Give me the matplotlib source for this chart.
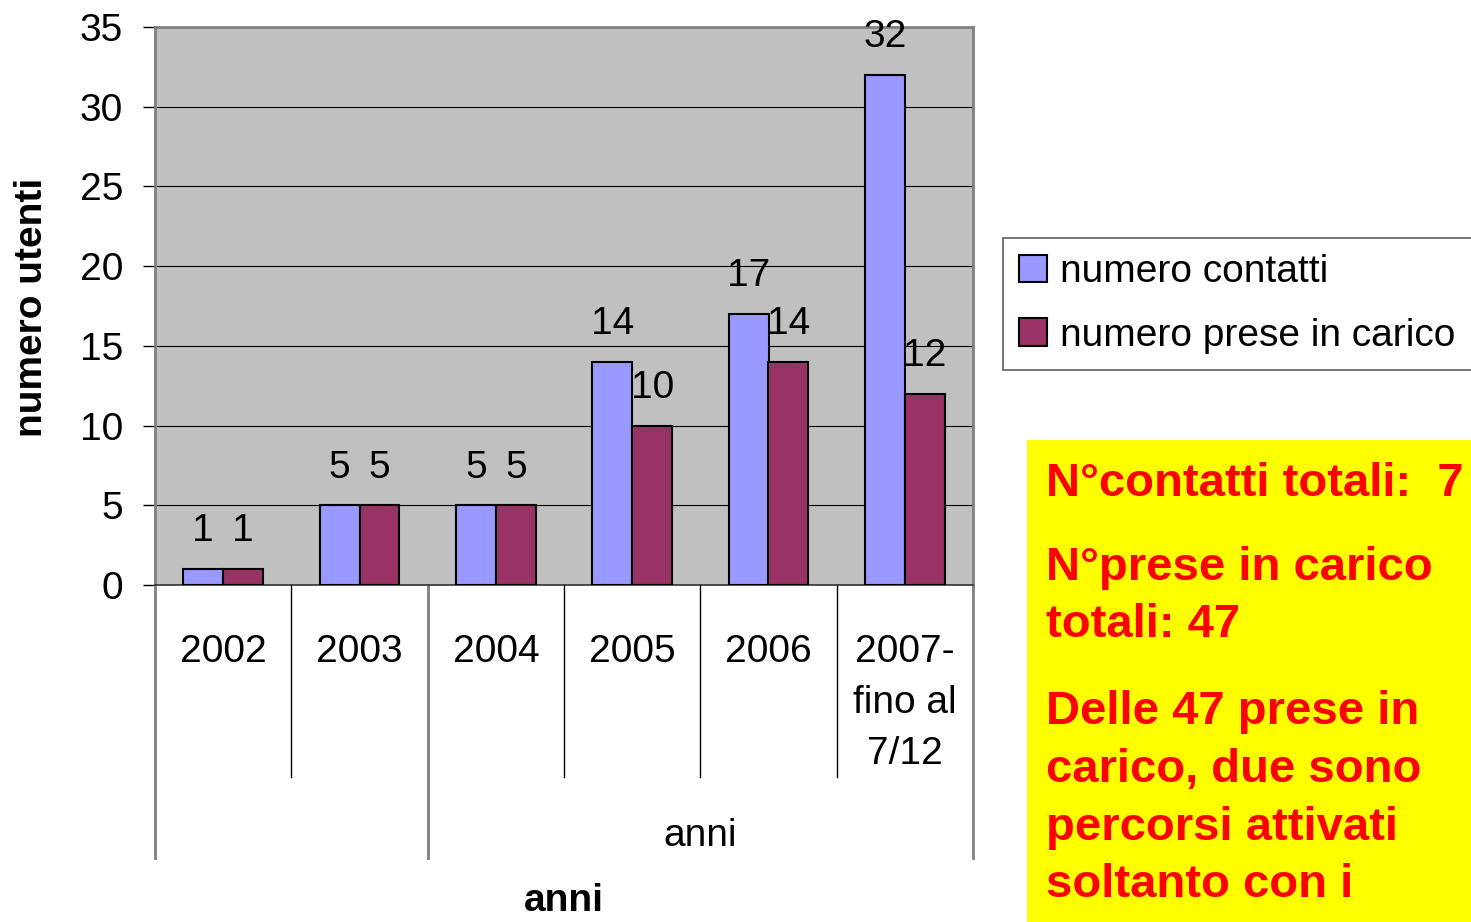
import numpy as np
import matplotlib
matplotlib.use('Agg')
import matplotlib.pyplot as plt
import matplotlib.patches as patches
from matplotlib.transforms import blended_transform_factory

plt.rcParams['font.family'] = ['Liberation Sans', 'DejaVu Sans']

# data
anni = ['2002', '2003', '2004', '2005', '2006', '2007-\nfino al\n7/12']
contatti = [1, 5, 5, 14, 17, 32]
prese = [1, 5, 5, 10, 14, 12]
serie_nomi = ['numero contatti', 'numero prese in carico']
box_righe = ['N°contatti totali:  7',
             'N°prese in carico',
             'totali: 47',
             'Delle 47 prese in',
             'carico, due sono',
             'percorsi attivati',
             'soltanto con i']

blu = '#9999FF'
viola = '#993366'
grigio = '#C0C0C0'

fig = plt.figure(figsize=(14.71, 9.22), dpi=100)
ax = fig.add_axes([155/1471, 1-585/922, 818/1471, 558/922])
ax.set_facecolor(grigio)

x = np.arange(len(anni))
w = 0.293
b1 = ax.bar(x - w/2, contatti, w, color=blu, edgecolor='black', linewidth=1.5, label=serie_nomi[0], zorder=3)
b2 = ax.bar(x + w/2, prese, w, color=viola, edgecolor='black', linewidth=1.5, label=serie_nomi[1], zorder=3)

# value labels above each bar
for bars, vals in ((b1, contatti), (b2, prese)):
    for r, v in zip(bars, vals):
        ax.annotate(str(v), (r.get_x() + r.get_width()/2, v), xytext=(0, 20),
                    textcoords='offset points', ha='center', va='baseline', fontsize=28)

ax.set_xlim(-0.5, len(anni) - 0.5)
ax.set_ylim(0, 35)
ax.set_yticks(np.arange(0, 36, 5))
ax.yaxis.grid(True, color='black', linewidth=0.8)
ax.set_axisbelow(True)
ax.tick_params(axis='y', labelsize=28, length=9, width=1, pad=14, direction='out')
ax.set_xticks([])
for s in ('top', 'right', 'left'):
    ax.spines[s].set_color('#808080')
    ax.spines[s].set_linewidth(2)
ax.spines['bottom'].set_color('#333333')
ax.spines['bottom'].set_linewidth(1.2)

# multi level category axis, done by hand
tr = blended_transform_factory(ax.transData, ax.transAxes)
for i, lab in enumerate(anni):
    ax.annotate(lab, xy=(i, 0), xycoords=tr, xytext=(0, -35), textcoords='offset points',
                ha='center', va='top', fontsize=28, linespacing=1.55, multialignment='center')
for b in np.arange(-0.5, len(anni), 1.0):
    if b in (-0.5, 1.5, 5.5):
        ax.plot([b, b], [0, -0.489], transform=tr, color='#808080', linewidth=2, clip_on=False)
    else:
        ax.plot([b, b], [0, -0.344], transform=tr, color='black', linewidth=1, clip_on=False)
ax.text(3.5, -0.45, 'anni', transform=tr, ha='center', va='center', fontsize=28)
ax.text(0.5, -0.567, 'anni', transform=ax.transAxes, ha='center', va='center',
        fontsize=28, fontweight='bold')

fig.text(32/1471, 1-307/922, 'numero utenti', rotation=90, ha='center', va='center',
         fontsize=28, fontweight='bold')

# legend box
leg = fig.legend(loc='upper left', bbox_to_anchor=(1003/1471, 1-238/922), fontsize=28,
                 frameon=True, fancybox=False, edgecolor='#333333', handlelength=0.7,
                 handleheight=0.7, handletextpad=0.35, labelspacing=0.7, borderpad=0.42,
                 borderaxespad=0)
leg.get_frame().set_linewidth(1.2)

# yellow note box
fig.patches.append(patches.Rectangle((1027/1471, 0), 1-1027/1471, 1-440/922,
                                     transform=fig.transFigure, facecolor='#FFFF00',
                                     edgecolor='none', zorder=0))
ys = [484, 568, 625, 712, 770, 828, 885]
for t, yy in zip(box_righe, ys):
    fig.text(1046/1471, 1-yy/922, t, ha='left', va='center', color='#FF0000',
             fontsize=34, fontweight='bold')

fig.savefig('out.png', dpi=100)
